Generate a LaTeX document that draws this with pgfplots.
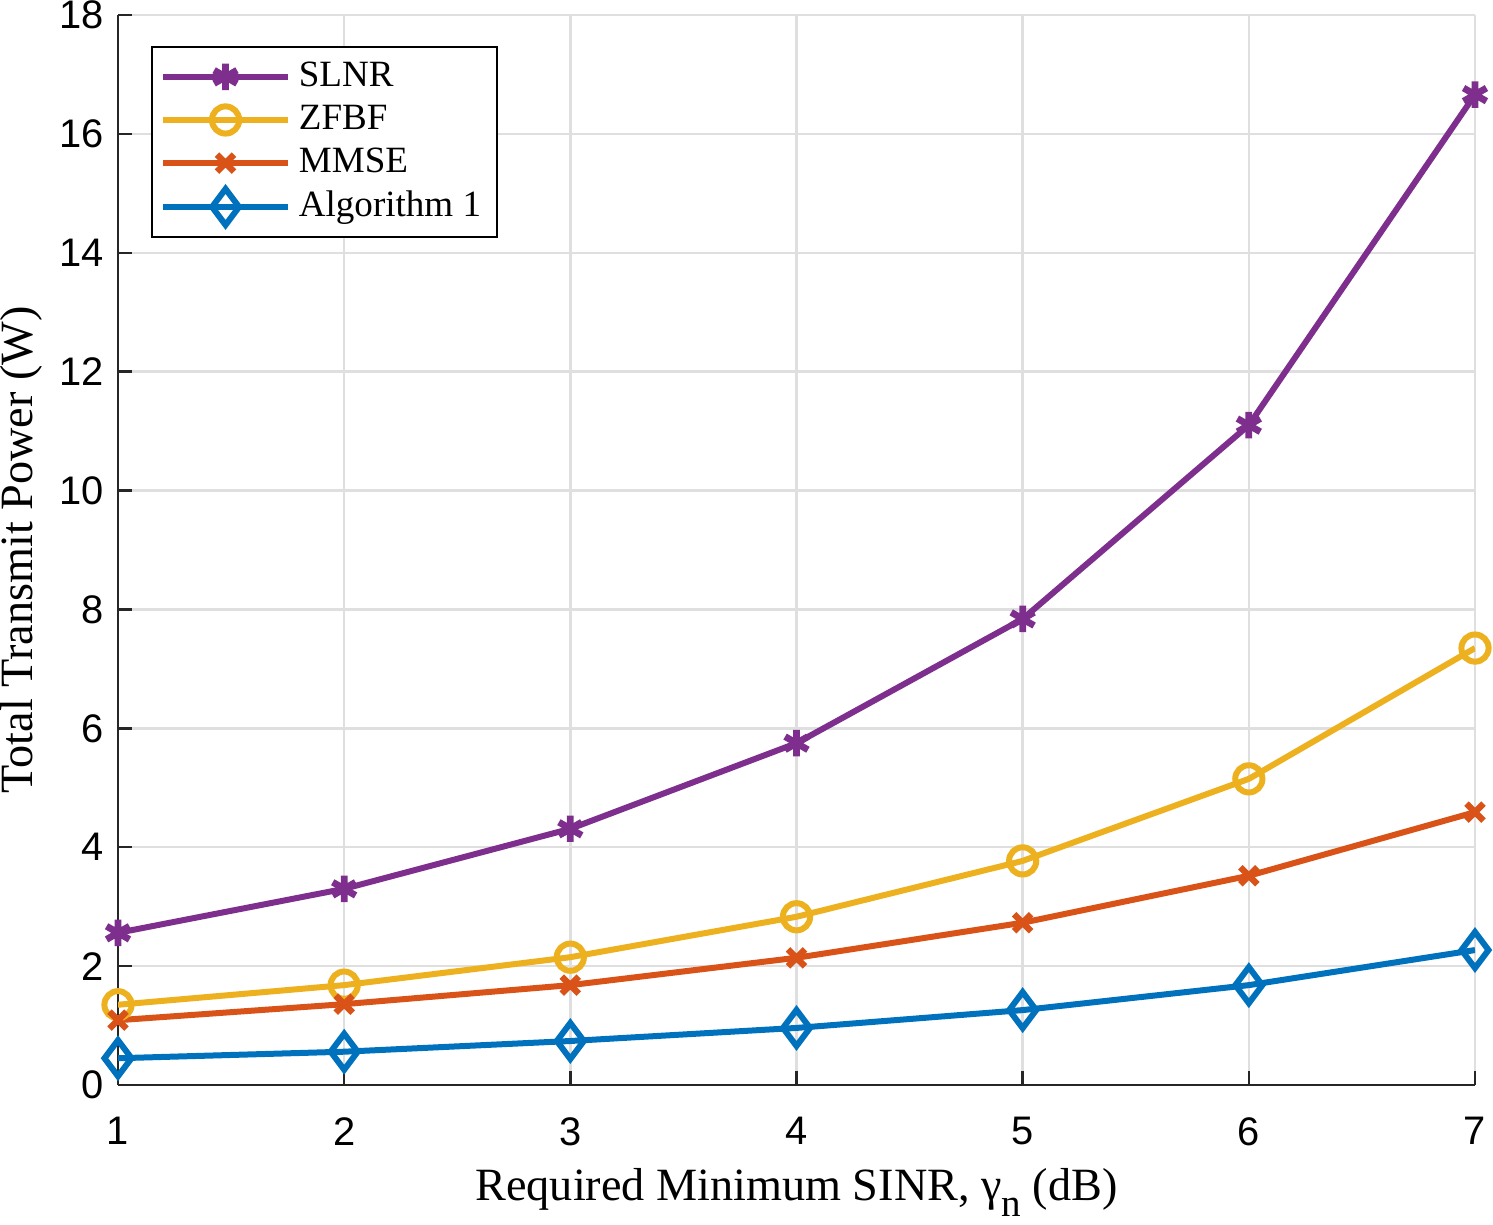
\documentclass[border=0pt]{standalone}
\usepackage{fontspec}
\setmainfont{Liberation Serif}
\setsansfont{Liberation Sans}
\usepackage{pgfplots}
\pgfplotsset{compat=1.18}
\definecolor{cSL}{rgb}{0.494,0.184,0.556}
\definecolor{cZF}{rgb}{0.929,0.694,0.125}
\definecolor{cMM}{rgb}{0.850,0.325,0.098}
\definecolor{cAL}{rgb}{0,0.447,0.741}
\definecolor{cGrid}{rgb}{0.875,0.875,0.875}
\begin{document}
\begin{tikzpicture}
\begin{axis}[
  scale only axis,
  width=339.25bp, height=267.5bp,
  xmin=1, xmax=7, ymin=0, ymax=18,
  xtick={1,...,7}, ytick={0,2,...,18},
  axis x line*=bottom, axis y line*=left,
  axis line style={line width=0.6bp, black!85},
  tick style={line width=0.6bp, black!85},
  tick align=inside,
  major tick length=3.6bp,
  grid=major,
  major grid style={line width=0.6bp, cGrid},
  ticklabel style={font=\fontsize{10}{12}\sffamily},
  /pgf/number format/assume math mode=true,
  xticklabel style={yshift=-4.6bp},
  yticklabel style={xshift=0bp},
  xlabel={Required Minimum SINR, γ\raisebox{-0.75ex}{\fontsize{9.8}{10}\selectfont n} (dB)},
  ylabel={Total Transmit Power (W)},
  label style={font=\fontsize{11.6}{13}\selectfont},
  xlabel style={yshift=1.2bp},
  ylabel style={yshift=-2.6bp},
  legend style={at={(0.0243,0.971)}, anchor=north west, draw=black, line width=0.6bp,
    font=\fontsize{9.3}{10.5}\selectfont, inner xsep=2bp, inner ysep=1.6bp,
    row sep=-0.8bp, fill=white},
  legend cell align=left,
  legend image code/.code={
    \draw[mark repeat=2,mark phase=2] plot coordinates {(0cm,0cm) (0.55cm,0cm) (1.1cm,0cm)};
  },
  every axis plot/.append style={line width=1.5bp},
]
\addplot[color=cSL, mark=asterisk, mark size=3.3bp, mark options={line width=1.7bp}] coordinates {
(1,2.56) (2,3.30) (3,4.31) (4,5.75) (5,7.84) (6,11.10) (7,16.66)};
\addlegendentry{SLNR}
\addplot[color=cZF, mark=o, mark size=3.4bp, mark options={line width=1.5bp}] coordinates {
(1,1.35) (2,1.68) (3,2.15) (4,2.83) (5,3.77) (6,5.15) (7,7.35)};
\addlegendentry{ZFBF}
\addplot[color=cMM, mark=x, mark size=3.0bp, mark options={line width=1.6bp}] coordinates {
(1,1.09) (2,1.36) (3,1.68) (4,2.14) (5,2.73) (6,3.52) (7,4.59)};
\addlegendentry{MMSE}
\addplot[color=cAL, mark=diamond, mark size=4.5bp, mark options={line width=1.5bp}] coordinates {
(1,0.45) (2,0.56) (3,0.74) (4,0.96) (5,1.26) (6,1.68) (7,2.27)};
\addlegendentry{Algorithm 1}
\end{axis}
\pgfresetboundingbox
\path[use as bounding box] ([xshift=-29.5bp,yshift=-35bp]current axis.south west) rectangle ([xshift=4.5bp,yshift=3.75bp]current axis.north east);
\end{tikzpicture}
\end{document}
